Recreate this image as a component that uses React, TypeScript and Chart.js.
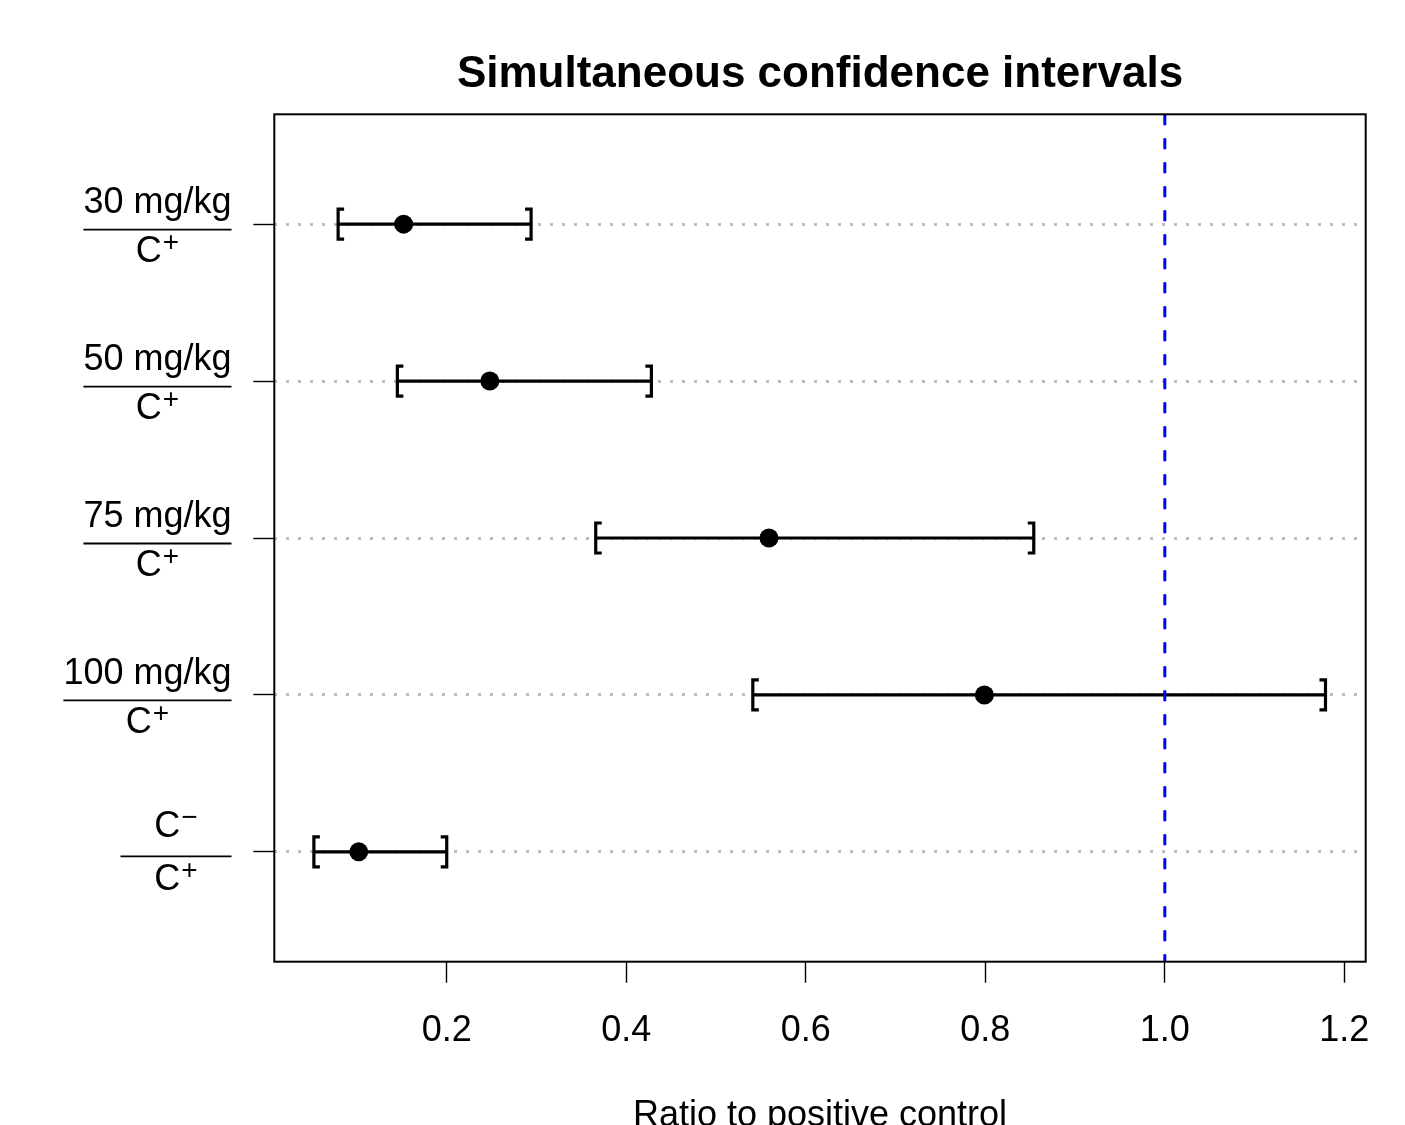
import React, { useEffect, useRef } from "react";
import { Chart, registerables } from "chart.js";

Chart.register(...registerables);

// ---- data ----
const numerators = ["30 mg/kg", "50 mg/kg", "75 mg/kg", "100 mg/kg", "C"];
const numeratorSup = ["", "", "", "", "\u2212"];
const denominators = ["C", "C", "C", "C", "C"];
const denominatorSup = ["+", "+", "+", "+", "+"];
const rowPositions = [5, 4, 3, 2, 1];
const estimates = [0.152, 0.248, 0.559, 0.799, 0.102];
const lowerBounds = [0.079, 0.145, 0.366, 0.541, 0.052];
const upperBounds = [0.294, 0.428, 0.854, 1.179, 0.2];
const xTicks = [0.2, 0.4, 0.6, 0.8, 1.0, 1.2];
const referenceValue = 1.0;
const titleText = "Simultaneous confidence intervals";
const xAxisTitle = "Ratio to positive control";

const FONT = '"Liberation Sans", Arial, Helvetica, sans-serif';
const BASE = 36;
const SUP = 28;

export default function App() {
  const ref = useRef<HTMLCanvasElement | null>(null);

  useEffect(() => {
    const canvas = ref.current;
    if (!canvas) return;

    const drawSupText = (
      ctx: CanvasRenderingContext2D,
      main: string,
      sup: string,
      cx: number,
      baseline: number
    ) => {
      ctx.font = `${BASE}px ${FONT}`;
      const wMain = ctx.measureText(main).width;
      ctx.font = `${SUP}px ${FONT}`;
      const wSup = sup ? ctx.measureText(sup).width + 1 : 0;
      const total = wMain + wSup;
      const x0 = cx - total / 2;
      ctx.textAlign = "left";
      ctx.textBaseline = "alphabetic";
      ctx.font = `${BASE}px ${FONT}`;
      ctx.fillText(main, x0, baseline);
      if (sup) {
        ctx.font = `${SUP}px ${FONT}`;
        ctx.fillText(sup, x0 + wMain + 1, baseline - 11);
      }
      return total;
    };

    const ciPlugin = {
      id: "ciPlugin",
      beforeDatasetsDraw(chart: any) {
        const { ctx, scales } = chart;
        const xs = scales.x;
        const ys = scales.y;
        ctx.save();
        ctx.strokeStyle = "#000";
        ctx.lineWidth = 3.2;
        ctx.lineCap = "butt";
        ctx.lineJoin = "miter";
        const half = 15;
        const arm = 6;
        for (let i = 0; i < rowPositions.length; i++) {
          const py = ys.getPixelForValue(rowPositions[i]);
          const xl = xs.getPixelForValue(lowerBounds[i]);
          const xu = xs.getPixelForValue(upperBounds[i]);
          ctx.beginPath();
          ctx.moveTo(xl, py);
          ctx.lineTo(xu, py);
          ctx.stroke();
          ctx.beginPath();
          ctx.moveTo(xl + arm, py - half);
          ctx.lineTo(xl, py - half);
          ctx.lineTo(xl, py + half);
          ctx.lineTo(xl + arm, py + half);
          ctx.stroke();
          ctx.beginPath();
          ctx.moveTo(xu - arm, py - half);
          ctx.lineTo(xu, py - half);
          ctx.lineTo(xu, py + half);
          ctx.lineTo(xu - arm, py + half);
          ctx.stroke();
        }
        ctx.restore();
      },
      afterDatasetsDraw(chart: any) {
        const { ctx, chartArea, scales } = chart;
        const xs = scales.x;
        const ys = scales.y;
        ctx.save();
        // reference line
        const rx = xs.getPixelForValue(referenceValue);
        ctx.strokeStyle = "#0000FF";
        ctx.lineWidth = 3;
        ctx.setLineDash([11, 13]);
        ctx.beginPath();
        ctx.moveTo(rx, chartArea.top);
        ctx.lineTo(rx, chartArea.bottom);
        ctx.stroke();
        ctx.setLineDash([]);
        // box
        ctx.strokeStyle = "#000";
        ctx.lineWidth = 2;
        ctx.strokeRect(
          chartArea.left,
          chartArea.top,
          chartArea.right - chartArea.left,
          chartArea.bottom - chartArea.top
        );
        // y labels (fractions)
        ctx.fillStyle = "#000";
        const barRight = 231.5;
        const minBar = 111;
        for (let i = 0; i < rowPositions.length; i++) {
          const py = ys.getPixelForValue(rowPositions[i]);
          ctx.font = `${BASE}px ${FONT}`;
          let wn = ctx.measureText(numerators[i]).width;
          if (numeratorSup[i]) {
            ctx.font = `${SUP}px ${FONT}`;
            wn += ctx.measureText(numeratorSup[i]).width + 1;
          }
          ctx.font = `${BASE}px ${FONT}`;
          let wd = ctx.measureText(denominators[i]).width;
          ctx.font = `${SUP}px ${FONT}`;
          wd += ctx.measureText(denominatorSup[i]).width + 1;
          const bw = Math.max(wn, wd, minBar);
          const cx = barRight - bw / 2;
          const numBase = numeratorSup[i] ? py - 15 : py - 11;
          const barY = numeratorSup[i] ? py + 4.5 : py + 5.5;
          drawSupText(ctx, numerators[i], numeratorSup[i], cx, numBase);
          drawSupText(ctx, denominators[i], denominatorSup[i], cx, py + 38);
          ctx.strokeStyle = "#000";
          ctx.lineWidth = 1.8;
          ctx.beginPath();
          ctx.moveTo(barRight - bw, barY);
          ctx.lineTo(barRight, barY);
          ctx.stroke();
        }
        // titles
        const midX = (chartArea.left + chartArea.right) / 2;
        ctx.textAlign = "center";
        ctx.textBaseline = "alphabetic";
        ctx.font = `bold 44px ${FONT}`;
        ctx.fillText(titleText, midX, 87);
        ctx.font = `${BASE}px ${FONT}`;
        ctx.fillText(xAxisTitle, midX, 1126);
        ctx.restore();
      },
    };

    const chart = new Chart(canvas, {
      type: "scatter",
      data: {
        datasets: [
          {
            data: estimates.map((e, i) => ({ x: e, y: rowPositions[i] })),
            backgroundColor: "#000",
            borderColor: "#000",
            borderWidth: 0,
            pointRadius: 9.5,
            pointHoverRadius: 9.5,
          },
        ],
      },
      options: {
        animation: false,
        responsive: false,
        devicePixelRatio: 1,
        layout: { padding: { top: 114.3, right: 39.3, left: 0, bottom: 0 } },
        plugins: {
          legend: { display: false },
          tooltip: { enabled: false },
          title: { display: false },
        },
        scales: {
          x: {
            type: "linear",
            position: "bottom",
            min: 0.0079,
            max: 1.2238,
            afterBuildTicks: (scale: any) => {
              scale.ticks = xTicks.map((v) => ({ value: v }));
            },
            afterFit: (scale: any) => {
              scale.height = 163.3;
            },
            border: { display: false },
            grid: {
              drawOnChartArea: false,
              drawTicks: true,
              tickLength: 21,
              tickColor: "#000",
              tickWidth: 1.4,
            },
            ticks: {
              autoSkip: false,
              maxRotation: 0,
              minRotation: 0,
              padding: 27,
              color: "#000",
              font: { family: FONT, size: BASE },
              callback: (v: any) => Number(v).toFixed(1),
            },
          },
          y: {
            type: "linear",
            position: "left",
            min: 0.3,
            max: 5.7,
            afterBuildTicks: (scale: any) => {
              scale.ticks = rowPositions.map((v) => ({ value: v }));
            },
            afterFit: (scale: any) => {
              scale.width = 274.3;
            },
            border: { display: false, dash: [3, 9] },
            grid: {
              drawOnChartArea: true,
              color: "#BEBEBE",
              lineWidth: 3,
              drawTicks: true,
              tickLength: 21,
              tickColor: "#000",
              tickWidth: 1.4,
              tickBorderDash: [],
            },
            ticks: { display: false },
          },
        },
      },
      plugins: [ciPlugin],
    } as any);

    return () => {
      chart.destroy();
    };
  }, []);

  return (
    <div style={{ position: "absolute", left: 0, top: 0, width: 1405, height: 1125, background: "#fff" }}>
      <canvas ref={ref} width={1405} height={1125} style={{ width: 1405, height: 1125, display: "block" }} />
    </div>
  );
}
